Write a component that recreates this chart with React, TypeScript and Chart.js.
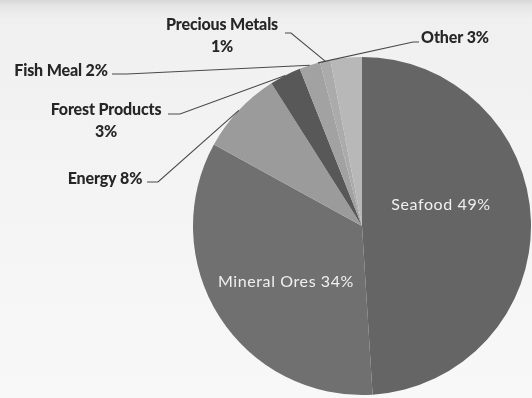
import React, { useEffect, useRef } from "react";
import { Chart, registerables } from "chart.js";

Chart.register(...registerables);

// Export mix by sector, share of total (%)
const categories = [
  "Seafood",
  "Mineral Ores",
  "Energy",
  "Forest Products",
  "Fish Meal",
  "Precious Metals",
  "Other",
];
const shares = [49, 34, 8, 3, 2, 1, 3];
const sliceColors = [
  "#656565",
  "#707070",
  "#9b9b9b",
  "#585858",
  "#a2a2a2",
  "#ababab",
  "#b8b8b8",
];

// Where each label sits. "inside" labels are drawn on the slice,
// the rest sit outside with a leader line to the rim.
type LabelLayout = {
  inside?: boolean;
  lines: string[];
  x: number;
  y: number;
  elbow?: [number, number, number]; // line start x, y and horizontal run end x
  anchorFrac?: number; // position along the slice arc the leader line points at
};

const labelLayout: LabelLayout[] = [
  { inside: true, lines: ["{c} {v}%"], x: 441, y: 205 },
  { inside: true, lines: ["{c} {v}%"], x: 286, y: 282 },
  { lines: ["{c} {v}%"], x: 105, y: 179, elbow: [147, 182, 158], anchorFrac: 0.5 },
  { lines: ["{c}", "{v}%"], x: 106, y: 110, elbow: [168, 114, 180], anchorFrac: 0.5 },
  { lines: ["{c} {v}%"], x: 61, y: 71, elbow: [112, 74, 127], anchorFrac: 0.5 },
  { lines: ["{c}", "{v}%"], x: 222, y: 25, elbow: [285, 33, 291], anchorFrac: 0.5 },
  { lines: ["{c} {v}%"], x: 455, y: 38, elbow: [419, 42, 413], anchorFrac: -0.4 },
];

const backdrop = {
  id: "backdrop",
  beforeDraw(chart: Chart) {
    const { ctx, width, height } = chart;
    ctx.save();
    const g = ctx.createLinearGradient(0, 0, 0, height);
    g.addColorStop(0, "#d8d8d8");
    g.addColorStop(0.015, "#e6e6e6");
    g.addColorStop(0.05, "#f0f0f0");
    g.addColorStop(0.5, "#f4f4f4");
    g.addColorStop(1, "#f8f8f8");
    ctx.fillStyle = g;
    ctx.fillRect(0, 0, width, height);
    ctx.restore();
  },
};

const sliceLabels = {
  id: "sliceLabels",
  afterDatasetsDraw(chart: Chart) {
    const { ctx } = chart;
    const meta = chart.getDatasetMeta(0);
    ctx.save();
    meta.data.forEach((el: any, i: number) => {
      const layout = labelLayout[i];
      if (!layout) return;
      const texts = layout.lines.map((t) =>
        t.replace("{c}", categories[i]).replace("{v}", String(shares[i]))
      );
      if (layout.inside) {
        ctx.font = "16px Lato, sans-serif";
        (ctx as any).letterSpacing = "0.6px";
        ctx.fillStyle = "#f0f0f0";
        ctx.textAlign = "center";
        ctx.textBaseline = "middle";
        ctx.fillText(texts[0], layout.x, layout.y);
        return;
      }
      // leader line from label to the slice rim
      const props = el.getProps(["x", "y", "startAngle", "endAngle", "outerRadius"], true);
      const frac = layout.anchorFrac ?? 0.5;
      const a = props.startAngle + (props.endAngle - props.startAngle) * frac;
      const ax = props.x + Math.cos(a) * props.outerRadius;
      const ay = props.y + Math.sin(a) * props.outerRadius;
      if (layout.elbow) {
        const [sx, sy, ex] = layout.elbow;
        ctx.strokeStyle = "#4a4a4a";
        ctx.lineWidth = 1.1;
        ctx.beginPath();
        ctx.moveTo(sx, sy);
        ctx.lineTo(ex, sy);
        ctx.lineTo(ax, ay);
        ctx.stroke();
      }
      ctx.font = "900 16px Lato, sans-serif";
      (ctx as any).letterSpacing = "-0.15px";
      ctx.fillStyle = "#262626";
      ctx.textAlign = "center";
      ctx.textBaseline = "middle";
      texts.forEach((t, k) => ctx.fillText(t, layout.x, layout.y + k * 22));
    });
    ctx.restore();
  },
};

export default function App() {
  const canvasRef = useRef<HTMLCanvasElement | null>(null);

  useEffect(() => {
    if (!canvasRef.current) return;
    const chart = new Chart(canvasRef.current, {
      type: "pie",
      data: {
        labels: categories,
        datasets: [
          {
            data: shares,
            backgroundColor: sliceColors,
            borderWidth: 0,
            hoverOffset: 0,
          },
        ],
      },
      options: {
        responsive: false,
        animation: false,
        layout: { padding: { left: 193, top: 57, right: 1, bottom: 3 } },
        plugins: {
          legend: { display: false },
          tooltip: { enabled: false },
          title: { display: false },
        },
      },
      plugins: [backdrop, sliceLabels],
    });
    return () => chart.destroy();
  }, []);

  return (
    <div style={{ position: "fixed", left: 0, top: 0, width: 532, height: 398 }}>
      <canvas ref={canvasRef} width={532} height={398} />
    </div>
  );
}
